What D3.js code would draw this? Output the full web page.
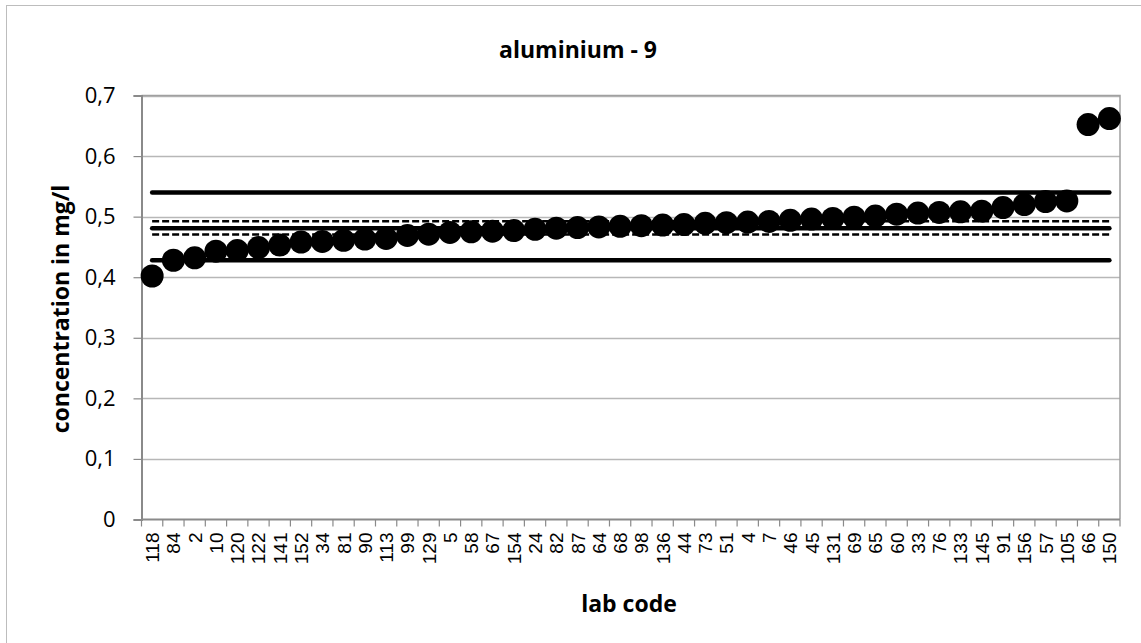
<!DOCTYPE html>
<html>
<head>
<meta charset="utf-8">
<script src="https://cdn.jsdelivr.net/npm/d3@7"></script>
<style>
  html, body { margin: 0; padding: 0; background: #fff; }
  svg { display: block; }
</style>
</head>
<body>
<svg id="chart" width="1141" height="643"></svg>
<script>
// ---- data ----
const labCodes = ["118","84","2","10","120","122","141","152","34","81","90","113","99","129","5","58","67","154","24","82","87","64","68","98","136","44","73","51","4","7","46","45","131","69","65","60","33","76","133","145","91","156","57","105","66","150"];
const concentrations = [0.402,0.428,0.432,0.443,0.444,0.449,0.453,0.458,0.459,0.461,0.463,0.464,0.469,0.471,0.474,0.475,0.476,0.477,0.479,0.481,0.482,0.483,0.484,0.485,0.486,0.487,0.489,0.490,0.491,0.492,0.494,0.496,0.497,0.499,0.501,0.504,0.506,0.507,0.508,0.509,0.515,0.520,0.525,0.526,0.652,0.662];
const limitLines = [0.540, 0.428];      // solid thick tolerance limits
const assignedValue = [0.481];          // solid middle
const uncertaintyLines = [0.4925, 0.4705]; // dashed
const yTicks = [0, 0.1, 0.2, 0.3, 0.4, 0.5, 0.6, 0.7];
const titleText = "aluminium - 9";
const xTitle = "lab code";
const yTitle = "concentration in mg/l";

(function () {
// ---- layout ----
const svg = d3.select("#chart");
const pLeft = 141.5, pRight = 1120, pTop = 95.5, pBottom = 519.5;

// outer chart frame
svg.append("rect").attr("x", 6.5).attr("y", 5.5).attr("width", 1200).attr("height", 700)
  .attr("fill", "#fff").attr("stroke", "#bdbdbd").attr("stroke-width", 1);

const x = d3.scaleBand().domain(labCodes).range([pLeft, pRight]).padding(0);
const y = d3.scaleLinear().domain([0, 0.7]).range([pBottom, pTop]);

// gridlines
svg.append("g").selectAll("line").data(yTicks.filter(d => d > 0)).join("line")
  .attr("x1", pLeft).attr("x2", pRight)
  .attr("y1", d => Math.round(y(d)) + 0.5).attr("y2", d => Math.round(y(d)) + 0.5)
  .attr("stroke", "#b7b7b7").attr("stroke-width", 1.3);

// plot frame (top, right)
svg.append("path")
  .attr("d", `M${pLeft},${y(0.7)}H${pRight}V${pBottom}`)
  .attr("fill", "none").attr("stroke", "#a0a0a0").attr("stroke-width", 1.5);

// y axis
const yAxis = d3.axisLeft(y).tickValues(yTicks).tickSize(8)
  .tickFormat(d => d === 0 ? "0" : d3.format(".1f")(d).replace(".", ","));
const gy = svg.append("g").attr("transform", `translate(${pLeft},0)`).call(yAxis);
gy.select(".domain").attr("stroke", "#8a8a8a").attr("stroke-width", 2);
gy.selectAll(".tick line").attr("stroke", "#8a8a8a").attr("stroke-width", 1.2);
gy.selectAll(".tick text").attr("font-family", "'Open Sans', sans-serif")
  .attr("font-size", 22).attr("fill", "#000").attr("x", -26);

// x axis (ticks at category boundaries)
const gx = svg.append("g").attr("transform", `translate(0,${pBottom})`);
gx.append("line").attr("x1", pLeft).attr("x2", pRight).attr("y1", 0).attr("y2", 0)
  .attr("stroke", "#8a8a8a").attr("stroke-width", 2);
const bounds = labCodes.map(d => x(d)).concat([pRight]);
gx.selectAll("line.tk").data(bounds).join("line").attr("class", "tk")
  .attr("x1", d => d).attr("x2", d => d).attr("y1", 0).attr("y2", 7)
  .attr("stroke", "#8a8a8a").attr("stroke-width", 1.2);
gx.selectAll("text").data(labCodes).join("text")
  .attr("transform", d => `translate(${x(d) + x.bandwidth() / 2 + 7},${13}) rotate(-90)`)
  .attr("text-anchor", "end")
  .attr("font-family", "'Liberation Sans', Arial, sans-serif")
  .attr("font-size", 19).attr("fill", "#000")
  .text(d => d);

// reference lines
const xStart = x(labCodes[0]) + x.bandwidth() / 2;
const xEnd = x(labCodes[labCodes.length - 1]) + x.bandwidth() / 2;
svg.append("g").selectAll("line").data(limitLines.concat(assignedValue)).join("line")
  .attr("x1", xStart).attr("x2", xEnd).attr("y1", d => y(d)).attr("y2", d => y(d))
  .attr("stroke", "#000").attr("stroke-width", 4.5).attr("stroke-linecap", "round");
svg.append("g").selectAll("line").data(uncertaintyLines).join("line")
  .attr("x1", xStart).attr("x2", xEnd).attr("y1", d => y(d)).attr("y2", d => y(d))
  .attr("stroke", "#000").attr("stroke-width", 2.5).attr("stroke-dasharray", "7,3");

// points
svg.append("g").selectAll("circle").data(labCodes).join("circle")
  .attr("cx", d => x(d) + x.bandwidth() / 2)
  .attr("cy", (d, i) => y(concentrations[i]))
  .attr("r", 11.5).attr("fill", "#000");

// titles
svg.append("text").attr("x", 578).attr("y", 58).attr("text-anchor", "middle")
  .attr("font-family", "'Open Sans', sans-serif").attr("font-weight", "bold")
  .attr("font-size", 23).text(titleText);
svg.append("text").attr("x", 629).attr("y", 612).attr("text-anchor", "middle")
  .attr("font-family", "'Open Sans', sans-serif").attr("font-weight", "bold")
  .attr("font-size", 23).text(xTitle);
svg.append("text").attr("transform", `translate(${69},${309}) rotate(-90)`)
  .attr("text-anchor", "middle")
  .attr("font-family", "'Open Sans', sans-serif").attr("font-weight", "bold")
  .attr("font-size", 23).text(yTitle);
})();
</script>
</body>
</html>
